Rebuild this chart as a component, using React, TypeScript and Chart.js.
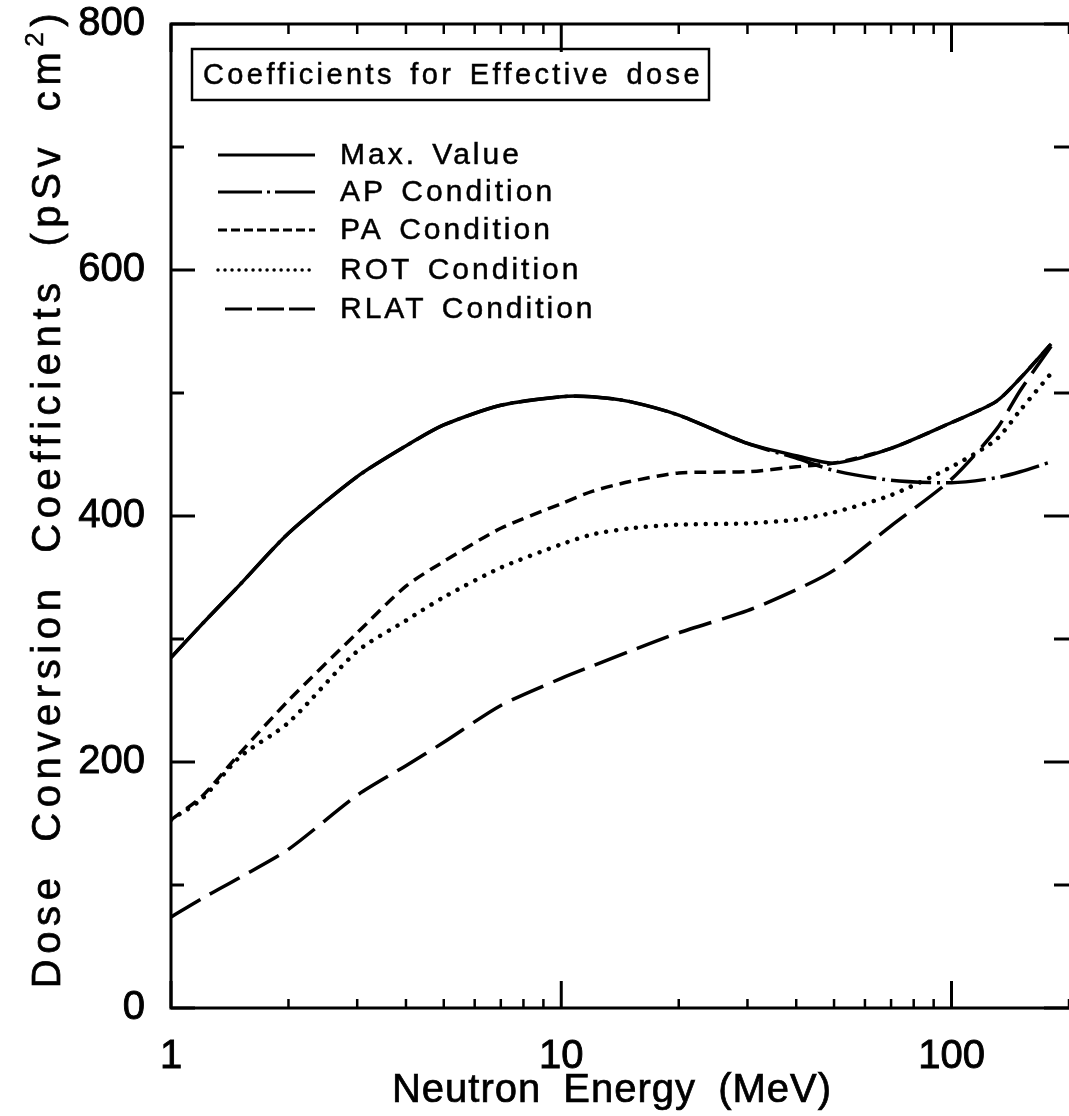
import React, { useEffect, useRef } from "react";
import { Chart, registerables } from "chart.js";

Chart.register(...registerables);

// ---- data ----
const energies = [1, 1.2, 1.5, 2, 3, 4, 5, 7, 10, 12, 15, 20, 30, 40, 50, 70, 100, 130, 150, 180];
const maxValue = [285, 312, 344, 386, 432, 457, 474, 490, 497, 497, 493, 482, 459, 449, 443, 455, 476, 493, 512, 540];
const apCondition = [285, 312, 344, 386, 432, 457, 474, 490, 497, 497, 493, 482, 459, 447, 437, 429, 427, 431, 436, 444];
const paCondition = [153, 172, 207, 250, 305, 343, 363, 390, 410, 420, 428, 435, 436, 440, 443, 455, 476, 493, 512, 540];
const rotCondition = [153, 170, 204, 232, 290, 315, 334, 358, 377, 385, 390, 393, 394, 397, 403, 417, 440, 462, 486, 516];
const rlatCondition = [74, 89, 106, 129, 173, 197, 216, 246, 268, 278, 290, 305, 323, 340, 356, 392, 430, 470, 502, 538];

const seriesLabels = ["Max. Value", "AP Condition", "PA Condition", "ROT Condition", "RLAT Condition"];
const yTickValues = [0, 200, 400, 600, 800];
const yMinorTicks = [100, 300, 500, 700];
const xTickValues = [1, 10, 100];
const xMinorTicks = [2, 3, 4, 5, 6, 7, 8, 9, 20, 30, 40, 50, 60, 70, 80, 90, 200];
const boxTitle = "Coefficients for Effective dose";
const xTitle = "Neutron Energy (MeV)";
const yTitleMain = "Dose Conversion Coefficients (pSv cm";
const yTitleSup = "2";
const yTitleEnd = ")";

const FONT = '"Liberation Sans", Arial, Helvetica, sans-serif';

const chartDashes: number[][] = [[], [40, 6, 3, 6], [12, 7], [0.01, 10], [34, 11]];
const chartWidths = [3.5, 3.5, 3.5, 4.5, 3.5];
const legendDashes: number[][] = [[], [44, 5, 3, 5], [9, 4], [0.01, 7], [27, 5]];

const decorPlugin = {
  id: "decor",
  afterDraw(chart: any) {
    const ctx: CanvasRenderingContext2D = chart.ctx;
    const { left, right, top, bottom } = chart.chartArea;
    const xs = chart.scales.x;
    const ys = chart.scales.y;
    ctx.save();
    ctx.strokeStyle = "#000";
    ctx.fillStyle = "#000";
    ctx.setLineDash([]);
    ctx.lineCap = "butt";
    ctx.lineWidth = 3;
    ctx.beginPath();
    ctx.moveTo(right + 3, top);
    ctx.lineTo(left, top);
    ctx.lineTo(left, bottom);
    ctx.lineTo(right + 3, bottom);
    ctx.stroke();

    const seg = (x1: number, y1: number, x2: number, y2: number) => {
      ctx.beginPath();
      ctx.moveTo(x1, y1);
      ctx.lineTo(x2, y2);
      ctx.stroke();
    };
    ctx.lineWidth = 3;
    yTickValues.forEach((v) => {
      const y = ys.getPixelForValue(v);
      seg(left, y, left + 24, y);
      seg(right, y, right - 25, y);
    });
    yMinorTicks.forEach((v) => {
      const y = ys.getPixelForValue(v);
      seg(left, y, left + 13, y);
      seg(right, y, right - 15, y);
    });
    xTickValues.forEach((v) => {
      const x = xs.getPixelForValue(v);
      seg(x, bottom, x, bottom - 27);
      seg(x, top, x, top + 28);
    });
    ctx.lineWidth = 2.5;
    xMinorTicks.forEach((v) => {
      const x = xs.getPixelForValue(v);
      seg(x, bottom, x, bottom - 9);
      seg(x, top, x, top + 10);
    });

    const heavyText = (t: string, x: number, y: number, w = 0.9) => {
      ctx.lineWidth = w;
      ctx.fillText(t, x, y);
      ctx.strokeText(t, x, y);
    };

    // tick labels
    ctx.font = `40px ${FONT}`;
    ctx.textAlign = "right";
    ctx.textBaseline = "middle";
    yTickValues.forEach((v) => heavyText(String(v), 145, ys.getPixelForValue(v)));
    ctx.textAlign = "center";
    xTickValues.forEach((v) => heavyText(String(v), xs.getPixelForValue(v), 1057));

    // x title
    (ctx as any).letterSpacing = "1px";
    (ctx as any).wordSpacing = "10px";
    ctx.textAlign = "center";
    heavyText(xTitle, 612, 1091, 0.7);

    // y title (rotated)
    ctx.save();
    ctx.translate(60, 498);
    ctx.rotate(-Math.PI / 2);
    ctx.textAlign = "left";
    ctx.textBaseline = "alphabetic";
    (ctx as any).letterSpacing = "5.6px";
    (ctx as any).wordSpacing = "14px";
    ctx.font = `40px ${FONT}`;
    const w1 = ctx.measureText(yTitleMain).width;
    const w3 = ctx.measureText(yTitleEnd).width;
    ctx.font = `26px ${FONT}`;
    const w2 = ctx.measureText(yTitleSup).width;
    const x0 = -(w1 + w2 + w3) / 2;
    ctx.font = `40px ${FONT}`;
    heavyText(yTitleMain, x0, 0, 0.7);
    heavyText(yTitleEnd, x0 + w1 + w2, 0, 0.7);
    ctx.font = `26px ${FONT}`;
    heavyText(yTitleSup, x0 + w1, -17, 0.5);
    ctx.restore();

    // title box
    (ctx as any).letterSpacing = "3.4px";
    (ctx as any).wordSpacing = "4px";
    ctx.lineWidth = 2.5;
    ctx.strokeRect(192, 49, 517, 51);
    ctx.font = `29px ${FONT}`;
    ctx.textAlign = "left";
    ctx.textBaseline = "middle";
    heavyText(boxTitle, 203, 76, 0.5);

    // legend
    (ctx as any).letterSpacing = "3px";
    const rowY = [155, 192, 230, 270, 309];
    chart.data.datasets.forEach((ds: any, i: number) => {
      const y = rowY[i];
      ctx.lineWidth = i === 3 ? 3.5 : 3;
      ctx.setLineDash(legendDashes[i]);
      ctx.lineCap = i === 3 ? "round" : "butt";
      const x1 = i === 4 ? 225 : 218;
      ctx.beginPath();
      ctx.moveTo(x1, y);
      ctx.lineTo(315, y);
      ctx.stroke();
      ctx.setLineDash([]);
      ctx.lineCap = "butt";
      ctx.font = `30px ${FONT}`;
      heavyText(ds.label, 340, y + 1, 0.5);
    });
    ctx.restore();
  },
};

export default function App() {
  const ref = useRef<HTMLCanvasElement | null>(null);
  useEffect(() => {
    document.body.style.margin = "0";
    const canvas = ref.current!;
    const series = [maxValue, apCondition, paCondition, rotCondition, rlatCondition];
    const chart = new Chart(canvas, {
      type: "line",
      data: {
        datasets: series.map((vals, i) => ({
          label: seriesLabels[i],
          data: energies.map((e, j) => ({ x: e, y: vals[j] })),
          borderColor: "#000",
          borderWidth: chartWidths[i],
          borderDash: chartDashes[i],
          borderCapStyle: i === 3 ? "round" : "butt",
          pointRadius: 0,
          tension: 0.25,
          fill: false,
        })),
      },
      options: {
        animation: false,
        responsive: false,
        devicePixelRatio: 1,
        layout: { padding: { left: 171, top: 24, right: 0, bottom: 108 } },
        scales: {
          x: { type: "logarithmic", min: 1, max: 200, display: false },
          y: { type: "linear", min: 0, max: 800, display: false },
        },
        plugins: { legend: { display: false }, tooltip: { enabled: false } },
      },
      plugins: [decorPlugin],
    } as any);
    return () => chart.destroy();
  }, []);
  return <canvas ref={ref} width={1069} height={1116} style={{ display: "block" }} />;
}
